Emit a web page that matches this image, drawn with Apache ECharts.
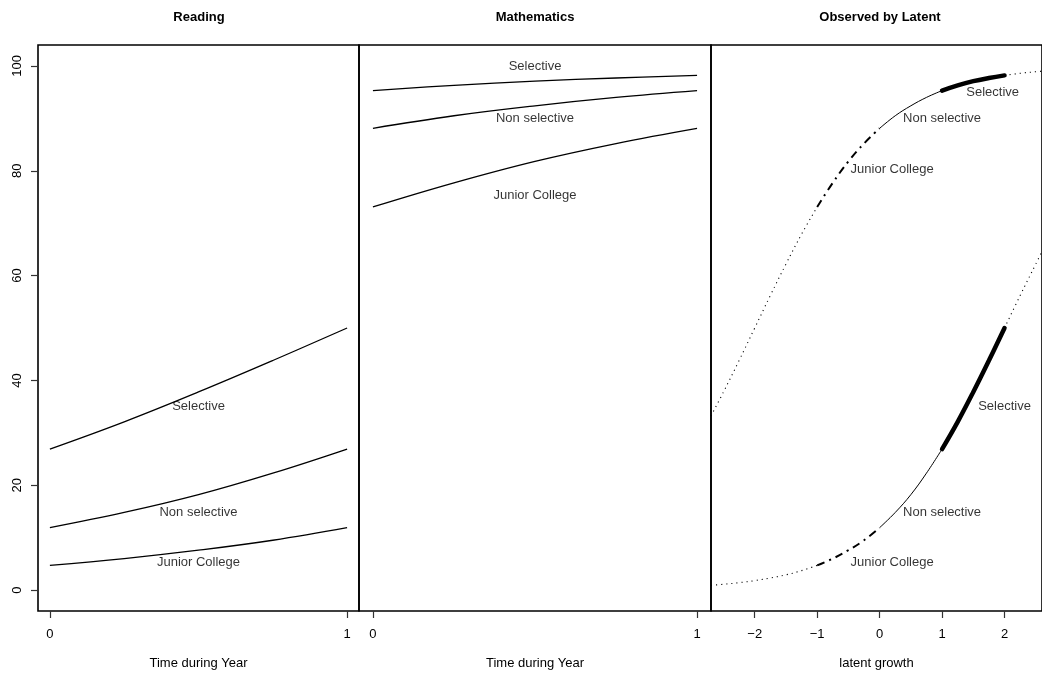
<!DOCTYPE html>
<html><head><meta charset="utf-8">
<script src="https://cdn.jsdelivr.net/npm/echarts@6/dist/echarts.min.js"></script>
<style>html,body{margin:0;padding:0;background:#fff}#c{width:1042px;height:675px}</style>
</head><body><div id="c"></div><script>
// ---- data ----
const panelTitles = ['Reading', 'Mathematics', 'Observed by Latent'];
const axisNames = ['Time during Year', 'Time during Year', 'latent growth'];
const schools = ['Junior College', 'Non selective', 'Selective'];
const timePoints = [0, 0.25, 0.5, 0.75, 1];
const readingJunior = [4.7, 6.0, 7.6, 9.5, 11.9];
const readingNonSel = [11.9, 14.8, 18.2, 22.3, 26.9];
const readingSelective = [26.9, 32.1, 37.8, 43.8, 50.0];
const mathJunior = [73.1, 77.7, 81.8, 85.2, 88.1];
const mathNonSel = [88.1, 90.5, 92.4, 94.0, 95.3];
const mathSelective = [95.3, 96.3, 97.1, 97.7, 98.2];
const latentStart = [-1, 0, 1];
const leftTailX = [-2.7, -2.5, -2.25, -2, -1.75, -1.5, -1.25, -1];
const mathLeftTail = [33.2, 37.8, 43.8, 50.0, 56.2, 62.2, 67.9, 73.1];
const readingLeftTail = [0.9, 1.1, 1.4, 1.8, 2.3, 2.9, 3.7, 4.7];
const rightTailX = [2, 2.25, 2.5, 2.6];
const mathRightTail = [98.2, 98.6, 98.9, 99.0];
const readingRightTail = [50.0, 56.2, 62.2, 64.6];
const yTicks = [0, 20, 40, 60, 80, 100];
const timeTicks = [0, 1];
const latentTicks = [-2, -1, 0, 1, 2];
// text label anchors (data coordinates)
const timeLabelX = 0.5;
const readingLabelY = [5.2, 14.9, 35.0];
const mathLabelY = [75.3, 89.9, 100.0];
const latentUpperLabelX = [0.2, 1.0, 1.81];
const latentUpperLabelY = [80.3, 89.9, 95.0];
const latentLowerLabelX = [0.2, 1.0, 2.0];
const latentLowerLabelY = [5.2, 14.9, 35.0];

// ---- chart ----
const FONT = 'Liberation Sans, Arial, Helvetica, sans-serif';
const readingSets = [readingJunior, readingNonSel, readingSelective];
const mathSets = [mathJunior, mathNonSel, mathSelective];
const latentStyles = [
  {color: '#000', width: 2, type: [8, 5, 2, 5], cap: 'butt'},
  {color: '#000', width: 1},
  {color: '#000', width: 4.5, cap: 'round'}
];
const dotted = {color: '#000', width: 1.1, type: [1.1, 4], cap: 'butt'};
const thin = {color: '#000', width: 1.3};

function pts(xs, ys) { return xs.map((x, i) => [x, ys[i]]); }
function line(idx, data, style) {
  return {type: 'line', xAxisIndex: idx, yAxisIndex: idx, data: data, smooth: 0.4,
    symbol: 'none', lineStyle: style, silent: true, clip: true, z: 3};
}
function labels(idx, xs, ys) {
  return {type: 'scatter', xAxisIndex: idx, yAxisIndex: idx, symbolSize: 0, silent: true, z: 4,
    data: schools.map((s, i) => [xs[i], ys[i], s]),
    label: {show: true, position: 'inside', formatter: p => p.data[2], color: '#000',
      fontSize: 13, fontFamily: FONT}};
}

const series = [];
schools.forEach((s, i) => {
  series.push(line(0, pts(timePoints, readingSets[i]), thin));
  series.push(line(1, pts(timePoints, mathSets[i]), thin));
  const lx = timePoints.map(t => latentStart[i] + t);
  series.push(line(2, pts(lx, mathSets[i]), latentStyles[i]));
  series.push(line(2, pts(lx, readingSets[i]), latentStyles[i]));
});
series.push(line(2, pts(leftTailX, mathLeftTail), dotted));
series.push(line(2, pts(leftTailX, readingLeftTail), dotted));
series.push(line(2, pts(rightTailX, mathRightTail), dotted));
series.push(line(2, pts(rightTailX, readingRightTail), dotted));
series.push(labels(0, schools.map(() => timeLabelX), readingLabelY));
series.push(labels(1, schools.map(() => timeLabelX), mathLabelY));
series.push(labels(2, latentUpperLabelX, latentUpperLabelY));
series.push(labels(2, latentLowerLabelX, latentLowerLabelY));

const gridBox = {show: true, borderColor: '#000', borderWidth: 1.6, top: 45, bottom: 64};
const grids = [
  Object.assign({left: 38, right: 683}, gridBox),
  Object.assign({left: 359, right: 331}, gridBox),
  Object.assign({left: 711, right: -6}, gridBox)
];
const xRanges = [[-0.04, 1.04], [-0.043, 1.043], [-2.7, 2.6]];
const xTickSets = [timeTicks, timeTicks, latentTicks];
const xAxes = [0, 1, 2].map(i => ({
  type: 'value', gridIndex: i, min: xRanges[i][0], max: xRanges[i][1], position: 'bottom',
  name: axisNames[i], nameLocation: 'middle', nameGap: 46,
  nameTextStyle: {fontSize: 13, fontFamily: FONT, color: '#000'},
  axisLine: {show: false, onZero: false}, splitLine: {show: false},
  axisTick: {show: true, inside: false, length: 7, customValues: xTickSets[i], lineStyle: {color: '#333', width: 1.2}},
  axisLabel: {show: true, margin: 17, customValues: xTickSets[i], fontSize: 13, fontFamily: FONT, color: '#000',
    formatter: v => (v < 0 ? '\u2212' + Math.abs(v) : String(v))}
}));
const yAxes = [0, 1, 2].map(i => ({
  type: 'value', gridIndex: i, min: -4, max: 104, position: 'left',
  axisLine: {show: false, onZero: false}, splitLine: {show: false},
  axisTick: {show: i === 0, inside: false, length: 7, customValues: yTicks, lineStyle: {color: '#333', width: 1.2}},
  axisLabel: {show: i === 0, rotate: 90, margin: 14, customValues: yTicks, fontSize: 13, fontFamily: FONT, color: '#000'}
}));
const titleX = [199, 535, 880];
const titles = panelTitles.map((t, i) => ({
  text: t, left: titleX[i], top: 11, textAlign: 'center', padding: 0,
  textStyle: {fontSize: 13, fontWeight: 'bold', fontFamily: FONT, color: '#000'}
}));

const chart = echarts.init(document.getElementById('c'), null, {renderer: 'canvas'});
chart.setOption({animation: false, backgroundColor: '#fff', title: titles, grid: grids,
  xAxis: xAxes, yAxis: yAxes, series: series});
</script></body></html>
